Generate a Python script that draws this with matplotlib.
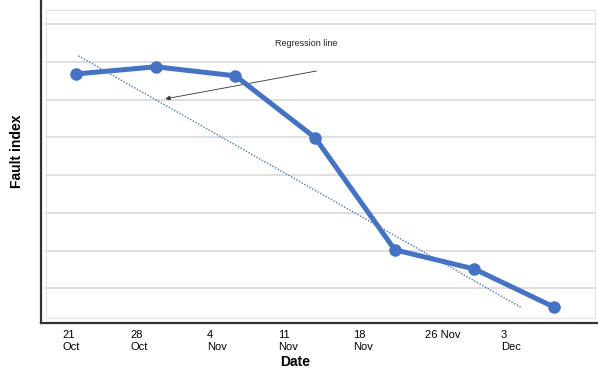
import numpy as np
import matplotlib
matplotlib.use("Agg")
import matplotlib.pyplot as plt
from matplotlib.patches import Rectangle

plt.rcParams['font.family'] = ['Liberation Sans', 'DejaVu Sans']

# data (y in gridline units)
dates = ['21\nOct', '28\nOct', '4\nNov', '11\nNov', '18\nNov', '26 Nov', '3\nDec']
fault_index = [6.68, 6.87, 6.63, 4.99, 2.02, 1.51, 0.50]
reg_x = [0.03, 5.58]
reg_y = [7.16, 0.50]
grid_levels = [1, 2, 3, 4, 5, 6, 7, 8]

blue = '#4472C4'
x = np.arange(len(dates))

fig = plt.figure(figsize=(5.98, 3.69), dpi=100)
ax = fig.add_axes([41 / 598, 46 / 369, 557 / 598, 323 / 369])
ax.set_xlim(-0.44, 6.55)
ax.set_ylim(0.08, 8.64)

# inner plot area + gridlines
ax.add_patch(Rectangle((-0.376, 0.20), 6.886, 8.17, fill=False,
                       edgecolor='#e3e3e3', lw=0.8, zorder=1))
ax.hlines(grid_levels, -0.376, 6.51, color='#d9d9d9', lw=1.2, zorder=1)

ax.plot(x, fault_index, color=blue, lw=3.6, marker='o', ms=8,
        solid_capstyle='round', zorder=4)
ax.plot(reg_x, reg_y, color=blue, lw=1.0, ls=(0, (1, 1.2)), zorder=3)

ax.annotate('', xy=(1.12, 6.02), xytext=(3.02, 6.76),
            arrowprops=dict(arrowstyle='-|>', color='#333333', lw=0.6,
                            mutation_scale=7, shrinkA=0, shrinkB=0))
ax.text(2.89, 7.48, 'Regression line', fontsize=6.5, ha='center',
        va='center', color='#222222')

for s in ['top', 'right']:
    ax.spines[s].set_visible(False)
for s in ['left', 'bottom']:
    ax.spines[s].set_color('#333333')
    ax.spines[s].set_linewidth(1.6)

# tick labels drift left of the points in the original
label_pos = [-0.176, 0.678, 1.644, 2.535, 3.476, 4.379, 5.332]
ax.set_xticks(label_pos)
ax.set_xticklabels(dates, fontsize=8, ha='left', multialignment='left')
ax.tick_params(axis='x', length=0, pad=5)
ax.set_yticks([])

fig.text(295 / 598, 1 - 362 / 369, 'Date', fontsize=10, fontweight='bold',
         ha='center', va='center')
fig.text(17 / 598, 1 - 151 / 369, 'Fault index', fontsize=10,
         fontweight='bold', rotation=90, ha='center', va='center')

fig.savefig('out.png', dpi=100)
